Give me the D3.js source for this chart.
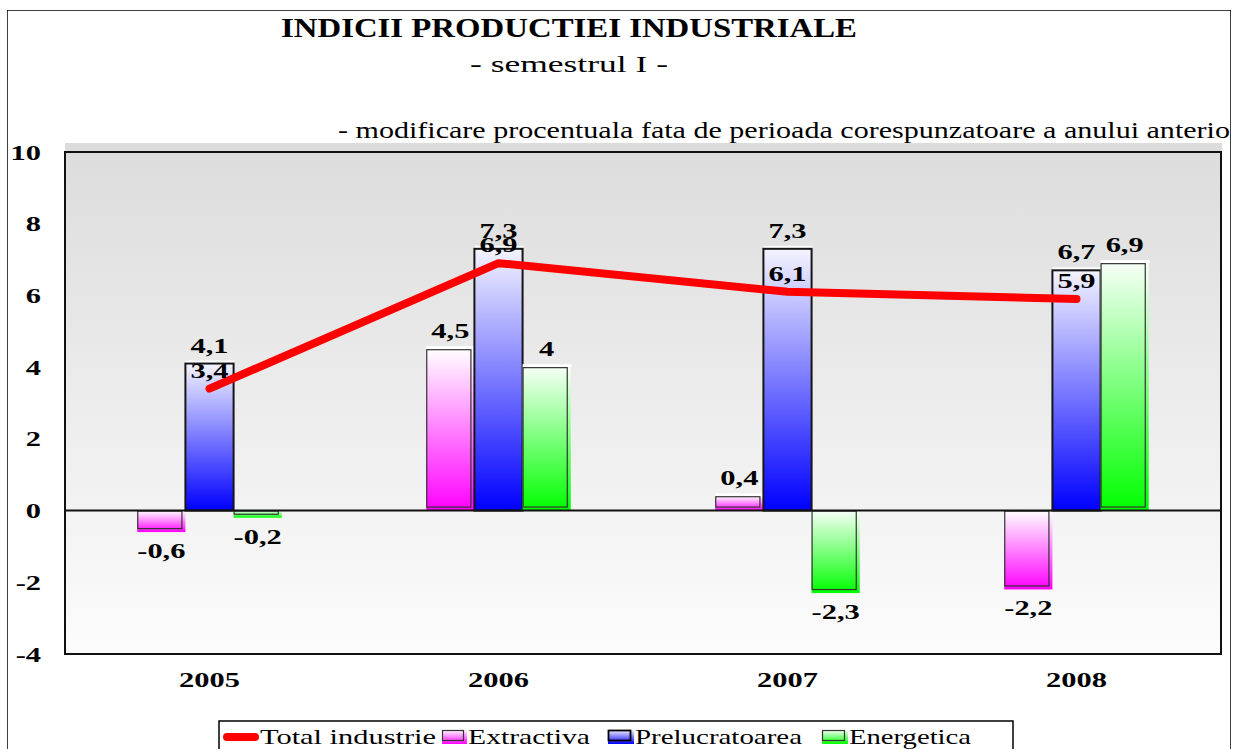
<!DOCTYPE html>
<html>
<head>
<meta charset="utf-8">
<script src="https://cdn.jsdelivr.net/npm/d3@7"></script>
<style>
html, body { margin: 0; padding: 0; background: #ffffff; }
svg { display: block; }
</style>
</head>
<body>
<svg id="chart" width="1233" height="749"></svg>
<script>
// ---------------- DATA ----------------
const years = ["2005", "2006", "2007", "2008"];
const totalIndustrie = [3.4, 6.9, 6.1, 5.9];
const extractiva = [-0.6, 4.5, 0.4, -2.2];
const prelucratoarea = [4.1, 7.3, 7.3, 6.7];
const energetica = [-0.2, 4, -2.3, 6.9];
const yTicks = [-4, -2, 0, 2, 4, 6, 8, 10];
const barSeriesNames = ["Extractiva", "Prelucratoarea", "Energetica"];
const lineSeriesName = "Total industrie";
const titleText = "INDICII PRODUCTIEI INDUSTRIALE";
const subtitleText = "- semestrul I -";
const noteText = "- modificare procentuala fata de perioada corespunzatoare a anului anterior";

// ---------------- LAYOUT ----------------
const W = 1233, H = 749;
const plot = { left: 65, right: 1221, top: 152, bottom: 654 };
const serif = "'Liberation Serif', 'Times New Roman', Times, serif";
const numScale = 1.45;

const svg = d3.select("#chart");
const defs = svg.append("defs");

defs.append("clipPath").attr("id", "outerClip")
  .append("rect").attr("x", 7).attr("y", 10).attr("width", 1224).attr("height", 760);

function vGrad(id, top, bottom) {
  const g = defs.append("linearGradient").attr("id", id)
    .attr("x1", 0).attr("y1", 0).attr("x2", 0).attr("y2", 1);
  g.append("stop").attr("offset", "0%").attr("stop-color", top);
  g.append("stop").attr("offset", "100%").attr("stop-color", bottom);
}
vGrad("bgGrad", "#dcdcdc", "#fcfcfc");
vGrad("gExtr", "#ffffff", "#ff00ff");
vGrad("gPrel", "#f4f4ff", "#0000ff");
vGrad("gEner", "#f6fff6", "#00ff00");

const seriesStyle = {
  "Extractiva": { grad: "url(#gExtr)", values: extractiva },
  "Prelucratoarea": { grad: "url(#gPrel)", values: prelucratoarea },
  "Energetica": { grad: "url(#gEner)", values: energetica }
};

const root = svg.append("g").attr("clip-path", "url(#outerClip)");

// outer border
root.append("rect").attr("x", 7).attr("y", 10).attr("width", 1224).attr("height", 780)
  .attr("fill", "#ffffff").attr("stroke", "#000").attr("stroke-width", 1.5);

// ---------------- SCALES ----------------
const x = d3.scaleBand().domain(years).range([plot.left, plot.right])
  .paddingInner(0.5).paddingOuter(0.25);
const xs = d3.scaleBand().domain(barSeriesNames).range([0, x.bandwidth()]).padding(0);
const y = d3.scaleLinear().domain([-4, 10]).range([plot.bottom, plot.top]);

const fmt = v => String(v).replace(".", ",");

// plot background (with the back-wall strip above the frame)
root.append("rect").attr("x", plot.left).attr("y", plot.top - 9)
  .attr("width", plot.right - plot.left + 1).attr("height", plot.bottom - plot.top + 9)
  .attr("fill", "url(#bgGrad)");
root.append("rect").attr("x", plot.left).attr("y", plot.top)
  .attr("width", plot.right - plot.left).attr("height", plot.bottom - plot.top)
  .attr("fill", "none").attr("stroke", "#111").attr("stroke-width", 2);

// ---------------- BARS ----------------
const barData = [];
years.forEach((yr, i) => {
  barSeriesNames.forEach(s => {
    barData.push({ year: yr, series: s, value: seriesStyle[s].values[i] });
  });
});

const barG = root.append("g");
barData.forEach(d => {
  const bx = x(d.year) + xs(d.series);
  const bw = xs.bandwidth();
  const top = Math.min(y(d.value), y(0));
  const bh = Math.abs(y(d.value) - y(0));
  const isPrel = d.series === "Prelucratoarea";
  if (d.value > 0) {
    barG.append("rect").attr("x", bx).attr("y", top - 3).attr("width", bw + 1).attr("height", 3)
      .attr("fill", "#ffffff");
  }
  barG.append("rect").attr("x", bx).attr("y", top).attr("width", bw).attr("height", bh)
    .attr("fill", seriesStyle[d.series].grad);
  if (isPrel) {
    barG.append("rect").attr("x", bx).attr("y", top).attr("width", bw).attr("height", bh)
      .attr("fill", "none").attr("stroke", "#161616").attr("stroke-width", 2);
  } else {
    barG.append("rect").attr("x", bx + 0.5).attr("y", top + 0.5)
      .attr("width", Math.max(bw - 4, 0)).attr("height", Math.max(bh - 4, 0))
      .attr("fill", "none").attr("stroke", "#333").attr("stroke-width", 1.2);
  }
});

// zero line over bar bases
root.append("line").attr("x1", plot.left).attr("x2", plot.right)
  .attr("y1", y(0)).attr("y2", y(0)).attr("stroke", "#111").attr("stroke-width", 2);

// ---------------- LINE ----------------
const lineGen = d3.line().x((d, i) => x(years[i]) + x.bandwidth() / 2).y(d => y(d));
root.append("path").datum(totalIndustrie).attr("d", lineGen)
  .attr("fill", "none").attr("stroke", "#ff0000").attr("stroke-width", 8)
  .attr("stroke-linecap", "round").attr("stroke-linejoin", "round");

// ---------------- AXES ----------------
const yAxis = root.append("g").attr("transform", `translate(${plot.left},0)`)
  .call(d3.axisLeft(y).tickValues(yTicks).tickSize(0).tickFormat(d => fmt(d)));
yAxis.select(".domain").remove();
yAxis.selectAll("text")
  .attr("x", 0).attr("dy", null).attr("y", 0)
  .attr("transform", `translate(-24,7) scale(${numScale},1)`)
  .attr("text-anchor", "end")
  .attr("font-family", serif).attr("font-size", 21).attr("font-weight", "bold").attr("fill", "#000");

const xAxis = root.append("g").attr("transform", `translate(0,${plot.bottom})`)
  .call(d3.axisBottom(x).tickSize(0));
xAxis.select(".domain").remove();
xAxis.selectAll("text")
  .attr("x", 0).attr("y", 0).attr("dy", null)
  .attr("transform", `translate(0,33) scale(${numScale},1)`)
  .attr("text-anchor", "middle")
  .attr("font-family", serif).attr("font-size", 21).attr("font-weight", "bold").attr("fill", "#000");

// ---------------- LABELS ----------------
const labelG = root.append("g").attr("font-family", serif).attr("font-size", 21)
  .attr("font-weight", "bold").attr("fill", "#000").attr("text-anchor", "middle");

function numLabel(cx, by, txt) {
  labelG.append("text").attr("transform", `translate(${cx},${by}) scale(${numScale},1)`).text(txt);
}

barData.forEach(d => {
  const bx = x(d.year) + xs(d.series);
  const bw = xs.bandwidth();
  const cx = bx + bw / 2;
  if (d.value >= 0) numLabel(cx, y(d.value) - 11, fmt(d.value));
  else numLabel(cx, y(d.value) + 26, fmt(d.value));
});
totalIndustrie.forEach((v, i) => {
  numLabel(x(years[i]) + x.bandwidth() / 2, y(v) - 11, fmt(v));
});

// ---------------- TITLES ----------------
root.append("text").attr("x", 569).attr("y", 37).attr("text-anchor", "middle")
  .attr("font-family", serif).attr("font-size", 27).attr("font-weight", "bold")
  .attr("textLength", 576).attr("lengthAdjust", "spacingAndGlyphs").text(titleText);
root.append("text").attr("x", 569).attr("y", 72).attr("text-anchor", "middle")
  .attr("font-family", serif).attr("font-size", 23)
  .attr("textLength", 198).attr("lengthAdjust", "spacingAndGlyphs").text(subtitleText);
root.append("text").attr("x", 338).attr("y", 138).attr("text-anchor", "start")
  .attr("font-family", serif).attr("font-size", 23)
  .attr("textLength", 902).attr("lengthAdjust", "spacingAndGlyphs").text(noteText);

// ---------------- LEGEND ----------------
const legend = root.append("g");
legend.append("rect").attr("x", 219).attr("y", 721).attr("width", 794).attr("height", 60)
  .attr("fill", "#ffffff").attr("stroke", "#000").attr("stroke-width", 1.5);

const legendItems = [
  { name: lineSeriesName, type: "line", symW: 36, textW: 176 },
  { name: "Extractiva", type: "bar", grad: "url(#gExtr)", symW: 25, textW: 122 },
  { name: "Prelucratoarea", type: "bar", grad: "url(#gPrel)", symW: 26, textW: 167, dark: true },
  { name: "Energetica", type: "bar", grad: "url(#gEner)", symW: 26, textW: 122 }
];
const legendGaps = [2, 14, 16, 0];
let lx = 223;
const ly = 737;
legendItems.forEach((it, i) => {
  if (it.type === "line") {
    legend.append("line").attr("x1", lx + 4).attr("x2", lx + it.symW - 4)
      .attr("y1", ly).attr("y2", ly).attr("stroke", "#ff0000").attr("stroke-width", 8)
      .attr("stroke-linecap", "round");
  } else {
    legend.append("rect").attr("x", lx).attr("y", ly - 7).attr("width", it.symW).attr("height", 14)
      .attr("fill", it.grad);
    legend.append("rect").attr("x", lx + 0.5).attr("y", ly - 6.5)
      .attr("width", it.symW - 4).attr("height", 10)
      .attr("fill", "none").attr("stroke", it.dark ? "#000" : "#333").attr("stroke-width", it.dark ? 1.8 : 1.2);
  }
  lx += it.symW + 1;
  legend.append("text").attr("x", lx).attr("y", ly + 7)
    .attr("font-family", serif).attr("font-size", 22)
    .attr("textLength", it.textW).attr("lengthAdjust", "spacingAndGlyphs").text(it.name);
  lx += it.textW + legendGaps[i] + 4;
});
</script>
</body>
</html>
